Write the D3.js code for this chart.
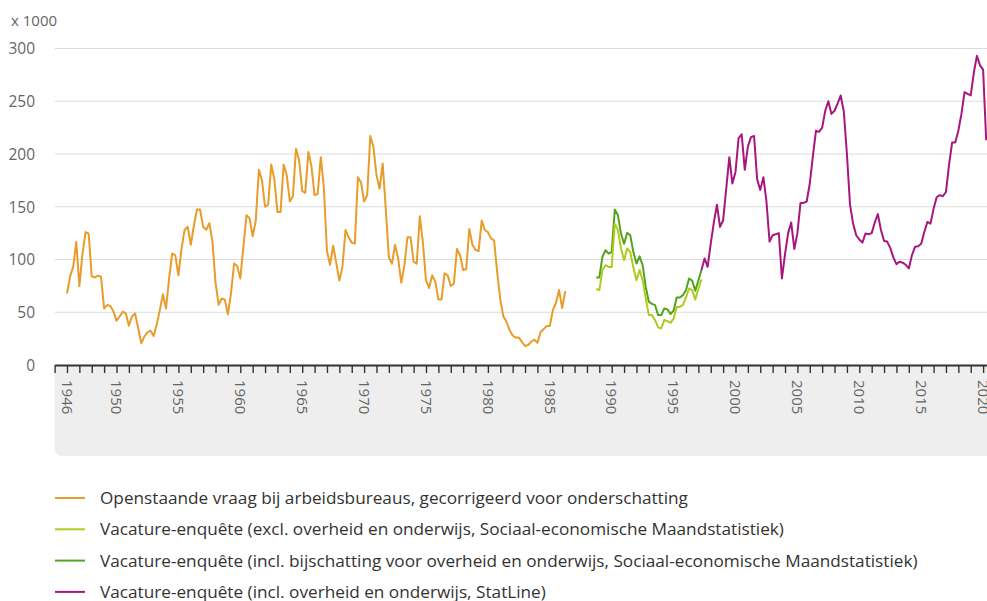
<!DOCTYPE html>
<html>
<head>
<meta charset="utf-8">
<script src="https://cdn.jsdelivr.net/npm/d3@7"></script>
<style>
  html, body { margin: 0; padding: 0; background: #fff; overflow: hidden; }
  svg { display: block; font-family: "Open Sans", sans-serif; }
</style>
</head>
<body>
<svg id="chart" width="987" height="601"></svg>
<script>
// quarterly values, x 1000
const orangeStart = 1946;
const orangeValues = [
  67.8, 83.6, 93, 116.7, 74.8, 105, 126, 124.6, 84, 83,
  84.7, 83.6, 53.6, 56.8, 56, 51, 42, 46, 50.5, 49,
  37.2, 46, 48.9, 35, 20.5, 27, 31, 32.5, 27.4, 38.5,
  52, 67, 53.6, 82, 105.7, 104, 85, 110, 128, 131,
  114, 132, 147.3, 147.3, 131, 128.2, 134.5, 117, 78, 57,
  63, 62, 48, 68, 96.3, 93.8, 82, 112, 142, 139,
  122, 137, 185, 175, 150, 152, 190, 176, 145, 145,
  190, 180, 155, 160, 205, 194, 165, 163, 202, 188,
  161, 162, 197, 168, 108, 95, 113, 97, 80, 93,
  128, 121, 116, 115, 178, 173, 155, 161, 217, 207,
  180, 167, 191, 148, 102, 96, 114, 101, 78, 94,
  121, 121, 98, 96, 141, 116, 80, 73, 85, 79,
  62, 62, 87, 85, 75, 77, 110, 104, 90, 91,
  129, 114, 109, 108, 137, 128, 126, 120, 118, 88,
  62, 46, 41, 33, 28, 26, 26, 22, 18, 19,
  22, 24, 21, 31, 34, 37, 37, 52, 59, 71,
  54, 70
];

const greenStart = 1988.75;
const lightGreenValues = [
  72, 71, 90, 94.6, 93, 93, 134, 127.8, 110.4, 99.4,
  110.4, 107, 92.4, 80.4, 90, 80.4, 63, 47.3, 47.3, 42.6,
  35.6, 34.7, 42.6, 41.6, 40, 44, 55, 55, 56.8, 64,
  72.6, 71, 62, 72, 81
];
const darkGreenValues = [
  83, 83, 102.5, 108.8, 105.7, 107, 147.3, 142, 124.6, 115,
  125.2, 123, 107, 96.2, 103, 94.6, 74, 60, 58, 56.8,
  47.3, 47.3, 53.6, 52.7, 48.3, 51.4, 64, 64, 66.2, 71,
  82, 80, 70.3, 80, 90
];

const purpleStart = 1997.25;
const purpleValues = [
  90, 101, 93, 115, 135, 152, 131, 137, 167, 197,
  172, 183, 215, 218.6, 185, 207, 216, 217, 176, 166,
  178, 155, 117, 123, 124, 125, 82, 105, 125, 135,
  110, 125, 153.6, 153.6, 155, 172, 198, 222, 221, 225,
  241, 250, 238, 241, 248, 255.5, 240, 200, 152, 134,
  123, 119, 116, 124.6, 124, 125, 135, 143, 128, 117.6,
  117, 111, 102, 95.6, 97.8, 97, 95, 91.5, 104, 112,
  112.6, 115, 126, 135.6, 134, 148, 159, 161, 160, 164,
  190, 211, 211, 222, 238, 258.6, 257, 255.5, 277, 293,
  284, 280, 213
];

const yTicks = [0, 50, 100, 150, 200, 250, 300];
const yearLabels = [1946, 1950, 1955, 1960, 1965, 1970, 1975, 1980, 1985, 1990, 1995, 2000, 2005, 2010, 2015, 2020];
const seriesNames = [
  'Openstaande vraag bij arbeidsbureaus, gecorrigeerd voor onderschatting',
  'Vacature-enquête (excl. overheid en onderwijs, Sociaal-economische Maandstatistiek)',
  'Vacature-enquête (incl. bijschatting voor overheid en onderwijs, Sociaal-economische Maandstatistiek)',
  'Vacature-enquête (incl. overheid en onderwijs, StatLine)'
];
const colors = ['#e89c2a', '#afcb1e', '#53a31d', '#a6177f'];

const svg = d3.select('#chart');

const x = d3.scaleLinear()
  .domain([1945, 2021])
  .range([54.6, 54.6 + 76 * 12.38]);

const y = d3.scaleLinear()
  .domain([0, 300])
  .range([365, 48.5]);

const toPoints = (start, vals) => vals.map((v, i) => ({t: start + i / 4, v: v}));

// grid
svg.append('g')
  .selectAll('line')
  .data(yTicks.filter(d => d > 0))
  .enter()
  .append('line')
  .attr('x1', 55)
  .attr('x2', 987)
  .attr('y1', d => y(d))
  .attr('y2', d => y(d))
  .attr('stroke', '#dcdcdc')
  .attr('stroke-width', 1);

// y labels
svg.append('g')
  .selectAll('text')
  .data(yTicks)
  .enter()
  .append('text')
  .attr('x', 35)
  .attr('y', d => y(d))
  .attr('dy', '0.38em')
  .attr('text-anchor', 'end')
  .attr('font-size', 15.5)
  .attr('fill', '#666')
  .text(d => d);

svg.append('text')
  .attr('x', 11)
  .attr('y', 21)
  .attr('dy', '0.35em')
  .attr('font-size', 15)
  .attr('fill', '#666')
  .text('x 1000');

// gray band behind x labels
svg.append('rect')
  .attr('x', 54.6)
  .attr('y', 365)
  .attr('width', 1000)
  .attr('height', 91)
  .attr('rx', 7)
  .attr('fill', '#eeeeee');

// x axis
const years = d3.range(1945, 2022);
const xAxis = svg.append('g')
  .attr('transform', `translate(0, ${y(0)})`)
  .call(d3.axisBottom(x)
    .tickValues(years)
    .tickSize(8)
    .tickSizeOuter(0)
    .tickFormat(''));

xAxis.select('.domain').attr('stroke', '#333').attr('stroke-width', 2);
xAxis.selectAll('.tick line').attr('stroke', '#333').attr('stroke-width', 1.4);

svg.append('g')
  .selectAll('text')
  .data(yearLabels)
  .enter()
  .append('text')
  .attr('transform', d => `translate(${x(d)}, 380) rotate(90)`)
  .attr('dy', '0.35em')
  .attr('font-size', 15)
  .attr('fill', '#666')
  .text(d => d);

// lines
const line = d3.line()
  .x(d => x(d.t))
  .y(d => y(d.v));

const series = [
  {pts: toPoints(orangeStart, orangeValues), color: colors[0]},
  {pts: toPoints(greenStart, darkGreenValues), color: colors[2]},
  {pts: toPoints(greenStart, lightGreenValues), color: colors[1]},
  {pts: toPoints(purpleStart, purpleValues), color: colors[3]}
];

svg.append('g')
  .selectAll('path')
  .data(series)
  .enter()
  .append('path')
  .attr('d', d => line(d.pts))
  .attr('fill', 'none')
  .attr('stroke', d => d.color)
  .attr('stroke-width', 2)
  .attr('stroke-linejoin', 'round');

// legend
const legend = svg.append('g')
  .selectAll('g')
  .data(seriesNames)
  .enter()
  .append('g')
  .attr('transform', (d, i) => `translate(0, ${498 + i * 31.3})`);

legend.append('line')
  .attr('x1', 55)
  .attr('x2', 85)
  .attr('stroke', (d, i) => colors[i])
  .attr('stroke-width', 2);

legend.append('text')
  .attr('x', 100)
  .attr('dy', '0.35em')
  .attr('font-size', 17.2)
  .attr('fill', '#333')
  .text(d => d);
</script>
</body>
</html>
